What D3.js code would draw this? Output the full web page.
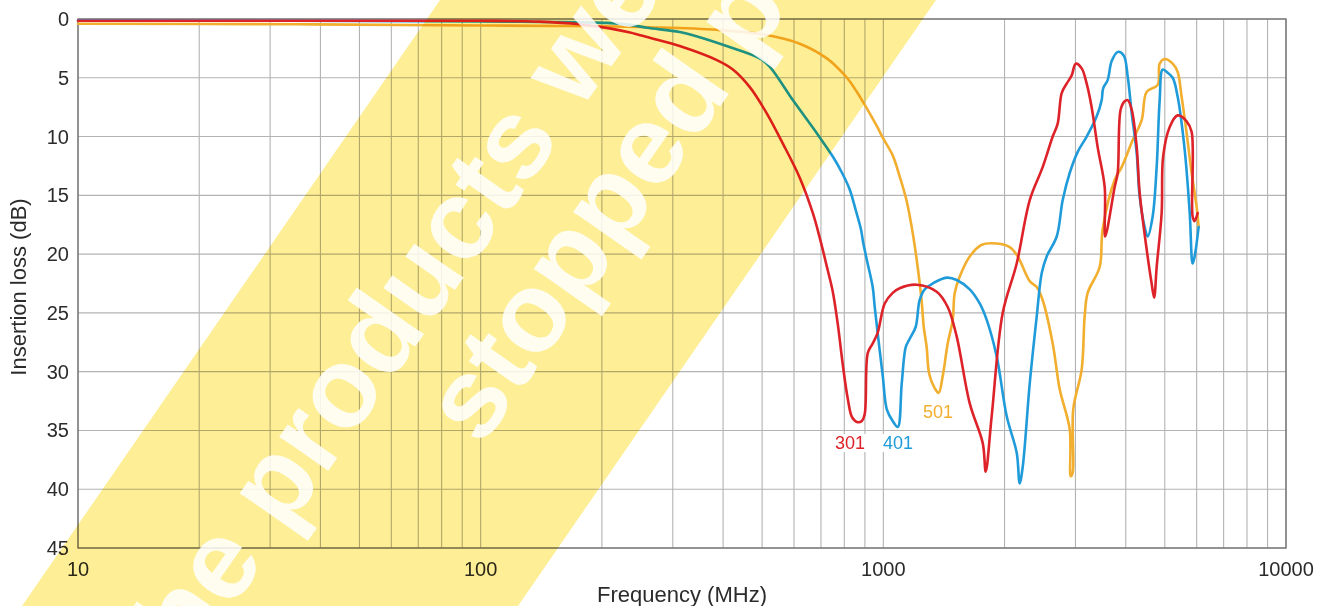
<!DOCTYPE html>
<html>
<head>
<meta charset="utf-8">
<script src="https://cdn.jsdelivr.net/npm/d3@7"></script>
<style>
  html, body { margin: 0; padding: 0; background: #fff; }
  svg { display: block; }
  text { font-family: "Liberation Sans", Arial, Helvetica, sans-serif; }
</style>
</head>
<body>
<svg id="chart" width="1318" height="606"></svg>
<script>
// ---------- data (frequency MHz, insertion loss dB) ----------
const freq301 = [10, 35, 100, 140, 176, 209, 235, 263, 312, 386, 423, 466, 513, 563, 620, 668, 695, 728, 749, 771, 793, 816, 837, 864, 884, 899, 915, 941, 968, 1008, 1055, 1098, 1210, 1357, 1445, 1521, 1639, 1766, 1796, 1858, 1979, 2144, 2310, 2487, 2634, 2710, 2773, 2853, 2936, 3005, 3109, 3199, 3291, 3406, 3546, 3556, 3754, 3819, 3885, 3975, 4045, 4138, 4258, 4331, 4508, 4638, 4705, 4773, 4911, 4953, 5140, 5381, 5665, 5830, 5863, 5930, 6033];
const loss301 = [0.15, 0.15, 0.15, 0.22, 0.45, 0.8, 1.15, 1.6, 2.3, 3.5, 4.3, 5.8, 8.0, 10.6, 13.5, 16.5, 18.6, 21.4, 23.2, 26.0, 29.4, 32.3, 33.9, 34.3, 34.2, 33.6, 28.4, 27.6, 26.7, 24.2, 23.3, 22.9, 22.6, 23.2, 24.5, 27.0, 32.7, 36.1, 38.5, 33.8, 25.0, 20.8, 15.4, 12.6, 10.0, 8.9, 6.3, 5.5, 4.8, 3.8, 4.2, 5.5, 7.5, 10.9, 14.3, 18.5, 14.3, 13.1, 7.7, 7.0, 6.9, 7.7, 10.9, 14.8, 19.6, 22.5, 23.7, 21.1, 16.5, 11.7, 9.2, 8.2, 8.7, 9.6, 16.8, 17.2, 16.5];

const freq401 = [10, 100, 140, 206, 235, 259, 312, 350, 408, 493, 522, 596, 683, 749, 790, 825, 853, 880, 890, 910, 941, 952, 968, 997, 1020, 1055, 1086, 1111, 1137, 1163, 1203, 1231, 1267, 1326, 1437, 1521, 1639, 1735, 1806, 1912, 2025, 2144, 2181, 2219, 2310, 2404, 2474, 2545, 2695, 2789, 2903, 3039, 3199, 3386, 3485, 3515, 3606, 3689, 3819, 3953, 4045, 4138, 4258, 4331, 4457, 4534, 4665, 4773, 4856, 4939, 5054, 5231, 5381, 5601, 5766, 5863, 5930, 6067];
const loss401 = [0.12, 0.2, 0.25, 0.33, 0.5, 0.75, 1.1, 1.55, 2.3, 3.35, 4.05, 6.9, 9.7, 11.7, 13.1, 14.5, 16.2, 17.9, 18.9, 20.5, 22.8, 24.5, 26.7, 30.4, 33.2, 34.2, 34.7, 31.0, 27.9, 27.2, 26.2, 23.9, 23.0, 22.5, 22.0, 22.2, 23.0, 24.2, 25.6, 28.7, 33.8, 36.9, 39.5, 38.1, 31.0, 25.3, 21.6, 20.2, 18.5, 15.4, 13.1, 11.3, 10.0, 8.3, 6.9, 5.9, 5.2, 3.6, 2.8, 3.1, 4.9, 8.0, 11.4, 15.1, 17.7, 18.5, 16.8, 12.6, 6.9, 4.3, 4.5, 5.0, 6.6, 11.1, 16.5, 20.8, 20.2, 17.7];

const freq501 = [10, 35, 100, 200, 263, 386, 513, 620, 724, 793, 825, 874, 910, 963, 997, 1055, 1098, 1143, 1183, 1217, 1245, 1260, 1281, 1300, 1341, 1372, 1404, 1445, 1487, 1504, 1548, 1639, 1756, 1912, 2060, 2157, 2310, 2404, 2487, 2634, 2742, 2903, 2920, 2953, 2962, 3109, 3162, 3217, 3445, 3505, 3754, 3907, 4162, 4381, 4508, 4801, 4856, 4997, 5231, 5381, 5505, 5665, 5830, 6000, 6067];
const loss501 = [0.4, 0.45, 0.55, 0.62, 0.7, 0.92, 1.36, 2.1, 3.35, 4.6, 5.3, 6.6, 7.6, 9.1, 10.1, 11.6, 13.4, 15.5, 18.2, 21.1, 24.0, 26.2, 27.9, 30.2, 31.4, 31.8, 30.4, 27.6, 25.6, 23.3, 21.9, 20.2, 19.2, 19.1, 19.4, 20.2, 22.3, 22.8, 23.9, 27.6, 31.5, 34.9, 38.9, 38.6, 33.2, 29.8, 25.3, 23.3, 21.1, 17.9, 13.7, 12.6, 10.3, 8.6, 6.2, 5.6, 3.8, 3.4, 3.8, 4.5, 6.6, 9.7, 13.1, 16.0, 17.7];

const seriesNames = ["501", "401", "301"];
const xTickValues = [10, 100, 1000, 10000];
const yTickValues = [0, 5, 10, 15, 20, 25, 30, 35, 40, 45];
const xTitle = "Frequency (MHz)";
const yTitle = "Insertion loss (dB)";
const watermarkLines = ["The products were", "stopped production."];

// ---------- build ----------
const series = [
  { name: "501", f: freq501, v: loss501, color: "#F2AE2E" },
  { name: "401", f: freq401, v: loss401, color: "#1F9BDA" },
  { name: "301", f: freq301, v: loss301, color: "#DD2229" }
];

const svg = d3.select("#chart");
const W = 1318, H = 606;
const x = d3.scaleLog().domain([10, 10000]).range([78, 1286]);
const y = d3.scaleLinear().domain([0, 45]).range([19, 548]);

// grid
const minor = [];
[10, 100, 1000].forEach(dec => { for (let k = 1; k <= 9; k++) minor.push(k * dec); });
minor.push(10000);
const grid = svg.append("g");
grid.selectAll("line.v").data(minor).join("line")
  .attr("x1", d => x(d)).attr("x2", d => x(d))
  .attr("y1", y(0)).attr("y2", y(45))
  .attr("stroke", "#b3b3b3").attr("stroke-width", 1.1);
grid.selectAll("line.h").data(yTickValues).join("line")
  .attr("x1", x(10)).attr("x2", x(10000))
  .attr("y1", d => y(d)).attr("y2", d => y(d))
  .attr("stroke", "#b3b3b3").attr("stroke-width", 1.1);

// frame
svg.append("rect")
  .attr("x", x(10)).attr("y", y(0))
  .attr("width", x(10000) - x(10)).attr("height", y(45) - y(0))
  .attr("fill", "none").attr("stroke", "#6e6e6e").attr("stroke-width", 1.3);

// curves
const line = d3.line()
  .x(d => x(d[0])).y(d => y(d[1]))
  .curve(d3.curveCatmullRom.alpha(0.5));
series.forEach(s => {
  const pts = s.f.map((f, i) => [f, s.v[i]]);
  svg.append("path").datum(pts)
    .attr("d", line)
    .attr("fill", "none")
    .attr("stroke", s.color)
    .attr("stroke-width", 2.6)
    .attr("stroke-linejoin", "round")
    .attr("stroke-linecap", "round");
});

// series labels
const labelPos = { "301": [850, 443], "401": [898, 443], "501": [938, 412] };
series.forEach(s => {
  const [lx, ly] = labelPos[s.name];
  const g = svg.append("g");
  const t = g.append("text")
    .attr("x", lx).attr("y", ly)
    .attr("text-anchor", "middle").attr("dominant-baseline", "central")
    .attr("font-size", 18).attr("fill", s.color)
    .text(s.name);
  const bb = t.node().getBBox();
  g.insert("rect", "text")
    .attr("x", bb.x - 2).attr("y", bb.y + 1)
    .attr("width", bb.width + 4).attr("height", bb.height - 2)
    .attr("fill", "#fff");
});

// axis tick labels
const yAxisG = svg.append("g");
yAxisG.selectAll("text").data(yTickValues).join("text")
  .attr("x", 69).attr("y", d => y(d))
  .attr("text-anchor", "end").attr("dominant-baseline", "central")
  .attr("font-size", 20).attr("fill", "#2b2b2b")
  .text(d => d);
const xAxisG = svg.append("g");
xAxisG.selectAll("text").data(xTickValues).join("text")
  .attr("x", d => x(d)).attr("y", 576)
  .attr("text-anchor", "middle")
  .attr("font-size", 20).attr("fill", "#2b2b2b")
  .text(d => d);

// titles
svg.append("text")
  .attr("x", 682).attr("y", 602)
  .attr("text-anchor", "middle")
  .attr("font-size", 22).attr("fill", "#2b2b2b")
  .text(xTitle);
svg.append("text")
  .attr("transform", "translate(26,287) rotate(-90)")
  .attr("text-anchor", "middle")
  .attr("font-size", 22).attr("fill", "#2b2b2b")
  .text(yTitle);

// watermark: yellow band (multiply) + white text
const wm = svg.append("g");
wm.append("polygon")
  .attr("points", [[440, 0], [936, 0], [518, H], [22, H]].map(p => p.join(",")).join(" "))
  .attr("fill", "#FEEE96")
  .style("mix-blend-mode", "multiply");
const ang = -55;
const wmStarts = [[151, 724], [481, 448]];
watermarkLines.forEach((txt, i) => {
  wm.append("text")
    .attr("transform", `translate(${wmStarts[i][0]},${wmStarts[i][1]}) rotate(${ang})`)
    .attr("font-size", 113).attr("font-weight", "bold")
    .attr("fill", "#fff").attr("fill-opacity", 0.85)
    .text(txt);
});
</script>
</body>
</html>
